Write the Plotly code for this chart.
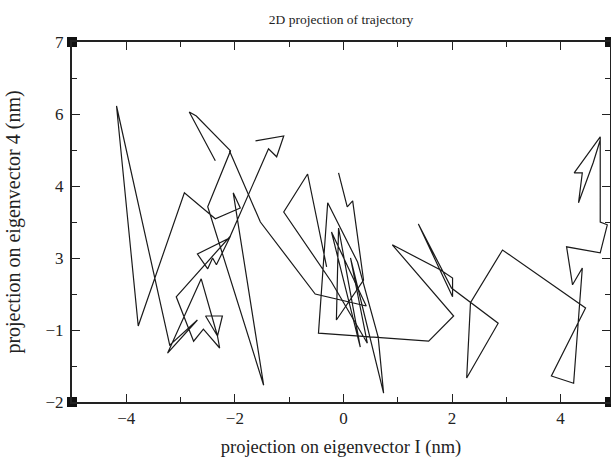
import plotly.graph_objects as go

# Trajectory projection (data units: x in nm on eigenvector I; y on the plotted eigenvector-4 scale)
# None separates visually distinct pieces of the traced path
traj_x = [-1.62, -1.10, -1.23, -1.38, -2.10, -2.69, -2.50, -2.41, -2.34, -2.08,
          -3.08, -2.76, -2.58, -2.28, -2.32, -2.23, -2.54, -2.32, -2.62, -3.24,
          -2.69, -3.20, -4.18, -3.78, -2.93, -2.36, -1.90, -2.03, -1.47, -2.50,
          -2.08, -2.71, -2.84, -2.36, None,
          -0.09, 0.07, 0.17, 0.37, -0.13, -0.09, 0.31, -0.22, 0.42, -0.52,
          -1.53, -2.10, None,
          -0.31, -0.66, -1.10, -0.22, 0.44, 0.13, 0.74, 0.64, 0.26, -0.29,
          -0.46, 1.57, 2.03, 0.90, 1.79, 2.01, 2.01, 1.38, 1.99, 2.85,
          2.27, 2.34, 2.93, 4.46, 3.83, 4.24, 4.40, 4.22, 4.11, 4.73,
          4.86, 4.73, 4.73, 4.25, 4.40, 4.33, 4.60, 4.73]
traj_y = [4.53, 4.65, 4.13, 4.33, 2.10, 1.70, 1.33, 1.60, 1.43, 2.15,
          0.63, -0.48, -0.18, -0.65, -0.35, 0.15, 0.15, -0.35, 1.08, -0.78,
          0.05, -0.58, 5.40, -0.10, 3.23, 2.58, 2.85, 3.23, -1.58, 2.88,
          4.28, 5.15, 5.25, 4.03, None,
          3.73, 2.88, 3.03, 1.05, 0.05, 2.35, -0.63, 2.25, 0.40, 0.70,
          2.50, 4.28, None,
          1.38, 3.70, 2.75, 1.00, -0.53, 1.60, -1.78, -0.38, 1.50, 2.98,
          -0.28, -0.48, 0.15, 1.93, 1.30, 1.10, 0.63, 2.45, 0.85, -0.03,
          -1.40, 0.48, 1.80, 0.35, -1.35, -1.53, 1.35, 0.93, 1.88, 1.73,
          2.43, 2.50, 4.63, 3.73, 3.73, 2.98, 3.98, 4.55]

x_ticks = [-4, -2, 0, 2, 4]
x_tick_labels = ["−4", "−2", "0", "2", "4"]
y_ticks = [-2, -0.2, 1.6, 3.4, 5.2, 7]
y_tick_labels = ["−2", "−1", "3", "4", "6", "7"]
x_range = [-5, 4.91]
y_range = [-2, 7]

FONT = "Liberation Serif"
PAD = "\u00a0"  # small gap between y tick labels and the frame

fig = go.Figure()
fig.add_trace(go.Scatter(x=traj_x, y=traj_y, mode="lines",
                         line=dict(color="#1a1a1a", width=1.2),
                         connectgaps=False, hoverinfo="skip", showlegend=False))
# corner square caps of the axes frame
fig.add_trace(go.Scatter(x=[x_range[0], x_range[0], x_range[1], x_range[1]],
                         y=[y_range[0], y_range[1], y_range[0], y_range[1]],
                         mode="markers", marker=dict(symbol="square", size=10, color="#111"),
                         cliponaxis=False, hoverinfo="skip", showlegend=False))

axis_common = dict(showline=True, linecolor="#222", linewidth=1.5, mirror="allticks",
                   ticks="inside", ticklen=8, tickwidth=1.2, tickcolor="#222",
                   showgrid=False, zeroline=False, automargin=False,
                   tickfont=dict(family=FONT, size=17, color="#222"))

fig.update_layout(
    width=611, height=461,
    margin=dict(l=72, r=1, t=42, b=59),
    paper_bgcolor="white", plot_bgcolor="white",
    font=dict(family=FONT, color="#222"),
    title=dict(text="2D projection of trajectory", x=341/611, xanchor="center",
               y=1 - 19/461, yanchor="middle", yref="container",
               font=dict(family=FONT, size=13.5, color="#222")),
    xaxis=dict(range=x_range, tickmode="array", tickvals=x_ticks, ticktext=x_tick_labels,
               minor=dict(tickmode="array", tickvals=[-3, -1, 1, 3], ticks="inside",
                          ticklen=5, tickcolor="#222"),
               title=dict(text="projection on eigenvector I (nm)",
                          font=dict(family=FONT, size=18.5, color="#222"), standoff=13),
               **axis_common),
    yaxis=dict(range=y_range, tickmode="array", tickvals=y_ticks,
               ticktext=[t + PAD for t in y_tick_labels],
               ticklabelstandoff=-1,
               minor=dict(tickmode="array", tickvals=[-1.1, 0.7, 2.5, 4.3, 6.1], ticks="inside",
                          ticklen=5, tickcolor="#222"),
               title=dict(text="projection on eigenvector 4 (nm)",
                          font=dict(family=FONT, size=20, color="#222"), standoff=20),
               **axis_common),
)

fig.write_html("out.html", config={"displayModeBar": False},
               post_script="document.body.style.margin='0';")
